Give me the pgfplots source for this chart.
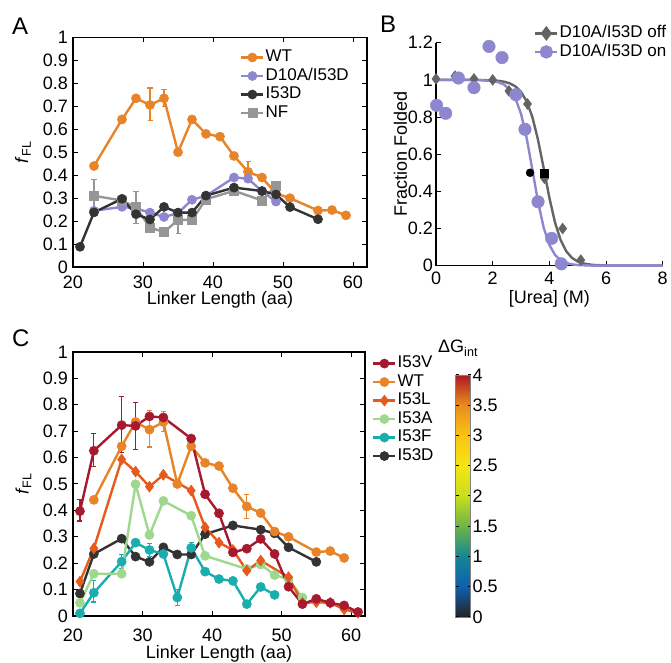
\documentclass[border=0pt]{standalone}
\usepackage{fontspec}
\setmainfont{Liberation Sans}
\usepackage{pgfplots}
\pgfplotsset{compat=1.18}
\definecolor{wt}{RGB}{232,131,39}
\definecolor{pur}{RGB}{141,135,207}
\definecolor{blk}{RGB}{51,51,51}
\definecolor{nf}{RGB}{150,150,150}
\definecolor{offc}{RGB}{100,100,100}
\definecolor{v53}{RGB}{166,25,46}
\definecolor{l53}{RGB}{230,90,30}
\definecolor{a53}{RGB}{158,216,142}
\definecolor{f53}{RGB}{26,173,173}
\newcommand{\fs}{\fontsize{18bp}{21bp}\selectfont}
\newcommand{\fl}{\fontsize{17bp}{19bp}\selectfont}
\pgfplotsset{
  base/.style={scale only axis, clip=false, tick align=inside, major tick length=5bp,
    axis line style={line width=1.1bp, black}, every tick/.style={line width=1bp, black},
    ticklabel style={font=\fs}, label style={font=\fs},
    /pgf/number format/assume math mode=true,
    xticklabel style={anchor=center, inner sep=0pt},
    yticklabel style={anchor=east, inner sep=0pt, xshift=-5bp},
    legend cell align=left,
    legend style={draw=none, fill=none, font=\fl, inner sep=0pt, row sep=0pt,
      nodes={inner sep=1bp, text height=12.5bp, text depth=4bp}},
    legend image code/.code={\draw[mark repeat=2,mark phase=2,##1] plot coordinates {(0bp,0bp) (11bp,0bp) (22bp,0bp)};},
  },
  ln/.style={color=#1, line width=2.4bp, mark=*, mark size=4.6bp, mark options={solid, fill=#1, draw=#1, line width=0.5bp}},
  eb/.style={color=#1, only marks, mark=none, forget plot, error bars/.cd, y dir=both, y explicit,
    error bar style={line width=1.1bp, color=#1}, error mark options={rotate=90, mark size=2.5bp, line width=1.1bp, color=#1}},
}
\begin{document}
\begin{tikzpicture}
\path[use as bounding box] (0,0) rectangle (671bp,663bp);
% ---------------- Panel A
\begin{axis}[base, at={(73bp,396bp)}, anchor=south west, width=294bp, height=229.5bp,
  xmin=20, xmax=62, ymin=0, ymax=1, xtick={20,30,40,50,60},
  ytick={0,0.1,0.2,0.3,0.4,0.5,0.6,0.7,0.8,0.9,1},
  xticklabel style={yshift=-15bp},
  xlabel={Linker Length (aa)}, xlabel style={at={(axis description cs:0.5,0)}, anchor=center, yshift=-33bp},
  ylabel={\textit{f}\textsubscript{FL}}, ylabel style={at={(axis description cs:-0.17,0.5)}, anchor=center},
  legend style={at={(0.568,0.954)}, anchor=north west}]
\addplot[eb=wt] coordinates {(31,0.706) += (0,0.074) -= (0,0.066) (33,0.735) += (0,0.04) -= (0,0.035) (45,0.415) += (0,0.045) -= (0,0.045)};
\addplot[eb=nf] coordinates {(23,0.308) += (0,0.074) -= (0,0.06) (29,0.26) += (0,0.068) -= (0,0.07) (35,0.205) += (0,0.035) -= (0,0.058)};
\addplot[ln=wt] coordinates {(23,0.44)(27,0.643)(29,0.735)(31,0.706)(33,0.735)(35,0.50)(37,0.643)(39,0.58)(41,0.568)(43,0.484)(45,0.415)(47,0.39)(49,0.32)(51,0.30)(55,0.246)(57,0.248)(59,0.225)};
\addlegendentry{WT}
\addplot[ln=pur] coordinates {(23,0.245)(27,0.262)(29,0.255)(31,0.237)(33,0.218)(35,0.235)(37,0.293)(39,0.31)(43,0.39)(45,0.385)(47,0.33)(49,0.285)};
\addlegendentry{D10A/I53D}
\addplot[ln=nf, mark=square*, forget plot] coordinates {(23,0.31)(27,0.29)(29,0.26)(31,0.172)(33,0.152)(35,0.205)(37,0.205)(39,0.295)(43,0.332)(47,0.29)(49,0.354)};
\addplot[ln=blk] coordinates {(21,0.088)(23,0.238)(27,0.297)(29,0.23)(31,0.207)(33,0.262)(35,0.237)(37,0.237)(39,0.311)(43,0.346)(47,0.331)(49,0.316)(51,0.261)(55,0.208)};
\addlegendentry{I53D}
\addlegendimage{ln=nf, mark=square*}
\addlegendentry{NF}
\end{axis}
% ---------------- Panel B
\begin{axis}[base, at={(436bp,397.3bp)}, anchor=south west, width=226.7bp, height=223bp,
  axis x line*=bottom, axis y line*=left,
  xmin=0, xmax=8, ymin=0, ymax=1.2, xtick={0,2,4,6,8}, ytick={0,0.2,0.4,0.6,0.8,1,1.2},
  xticklabel style={yshift=-12.5bp}, yticklabel style={xshift=2bp},
  xlabel={[Urea] (M)}, xlabel style={at={(axis description cs:0.5,0)}, anchor=center, yshift=-33bp},
  ylabel={Fraction Folded}, ylabel style={at={(axis description cs:-0.157,0.5)}, anchor=center},
  legend style={at={(0.432,1.084)}, anchor=north west}]
\addlegendimage{color=offc, line width=2.4bp, mark=diamond*, mark size=5.5bp, mark options={solid}}
\addlegendentry{D10A/I53D off}
\addlegendimage{color=pur, line width=2.4bp, mark=*, mark size=5.5bp, mark options={solid}}
\addlegendentry{D10A/I53D on}
\addplot[color=offc, line width=2.4bp, forget plot] coordinates {(0,1)(1,0.9999)(1.5,0.9995)(2,0.9973)(2.2,0.9948)(2.4,0.9902)(2.6,0.9814)(2.8,0.9652)(3.0,0.9357)(3.2,0.8841)(3.4,0.8002)(3.6,0.6774)(3.8,0.5242)(4.0,0.3663)(4.2,0.2326)(4.4,0.1372)(4.6,0.0770)(4.8,0.0419)(5.0,0.0224)(5.2,0.0119)(5.5,0.0046)(6,0.0009)(7,0)(8,0)};
\addplot[color=pur, line width=2.4bp, forget plot] coordinates {(0,1)(1,0.9998)(1.5,0.9990)(2,0.9938)(2.2,0.9873)(2.4,0.9745)(2.6,0.9493)(2.8,0.9015)(3.0,0.8176)(3.2,0.6869)(3.4,0.5178)(3.6,0.3446)(3.8,0.2047)(4.0,0.1120)(4.2,0.0581)(4.4,0.0293)(4.6,0.0146)(4.8,0.0072)(5.0,0.0035)(5.5,0.0006)(6,0.0001)(8,0)};
\addplot[only marks, mark=diamond*, mark size=5.5bp, color=offc, forget plot] coordinates {(0,1.005)(0.67,1.02)(1.34,1.005)(2.0,1.0)(2.575,0.94)(3.23,0.87)(3.83,0.47)(4.47,0.2)(5.11,0.03)};
\addplot[only marks, mark=*, mark size=6.3bp, color=pur, forget plot] coordinates {(0.02,0.863)(0.34,0.82)(0.79,1.01)(1.34,0.958)(1.87,1.18)(2.33,1.12)(2.82,0.92)(3.14,0.734)(3.6,0.344)(4.08,0.147)(4.42,0.01)};
\addplot[only marks, mark=*, mark size=4bp, color=black, forget plot] coordinates {(3.32,0.5)};
\addplot[only marks, mark=square*, mark size=4bp, color=black, forget plot] coordinates {(3.81,0.5)};
\end{axis}
% ---------------- Panel C
\begin{axis}[base, at={(73bp,47bp)}, anchor=south west, width=292bp, height=264bp,
  xmin=20, xmax=62, ymin=0, ymax=1, xtick={20,30,40,50,60},
  ytick={0,0.1,0.2,0.3,0.4,0.5,0.6,0.7,0.8,0.9,1},
  xticklabel style={yshift=-19bp},
  xlabel={Linker Length (aa)}, xlabel style={at={(axis description cs:0.5,0)}, anchor=center, yshift=-38bp},
  ylabel={\textit{f}\textsubscript{FL}}, ylabel style={at={(axis description cs:-0.17,0.5)}, anchor=center},
  legend style={at={(1.024,0.992)}, anchor=north west}, reverse legend,
  colormap={dg}{rgb255(0cm)=(35,35,35); rgb255(1cm)=(15,95,175); rgb255(2cm)=(20,135,150); rgb255(3cm)=(110,180,70); rgb255(4cm)=(200,222,30); rgb255(5cm)=(245,230,20); rgb255(6cm)=(250,195,20); rgb255(7cm)=(235,140,30); rgb255(8cm)=(170,25,35)},
  point meta min=0, point meta max=4,
  colorbar,
  colorbar style={at={(parent axis.north east)}, anchor=north west, xshift=82bp, yshift=-23bp,
    scale only axis, width=15bp, height=242bp,
    ytick={0,0.5,1,1.5,2,2.5,3,3.5,4},
    /pgf/number format/assume math mode=true,
    yticklabel style={font=\fs, inner sep=0pt, anchor=west, xshift=2bp},
    major tick length=3bp, tick align=inside,
    axis line style={line width=0.8bp, gray}},
  ]
\addplot[eb=f53] coordinates {(23,0.088) += (0,0.045) -= (0,0.035) (27,0.206) += (0,0.027) -= (0,0.025) (31,0.25) += (0,0.025) -= (0,0.025) (35,0.07) += (0,0.03) -= (0,0.03) (37,0.258) += (0,0.02) -= (0,0.02)};
\addplot[eb=v53] coordinates {(21,0.397) += (0,0.043) -= (0,0.037) (23,0.626) += (0,0.064) -= (0,0.061) (27,0.723) += (0,0.107) -= (0,0.103) (29,0.72) += (0,0.088) -= (0,0.09)};
\addplot[eb=wt] coordinates {(31,0.706) += (0,0.074) -= (0,0.066) (33,0.735) += (0,0.04) -= (0,0.035) (45,0.415) += (0,0.045) -= (0,0.045)};
\addplot[ln=blk] coordinates {(21,0.085)(23,0.235)(27,0.293)(29,0.225)(31,0.205)(33,0.26)(35,0.233)(37,0.233)(39,0.31)(43,0.343)(47,0.327)(49,0.313)(51,0.26)(55,0.205)};
\addlegendentry{I53D}
\addplot[ln=f53] coordinates {(21,0.01)(23,0.088)(27,0.206)(29,0.278)(31,0.25)(33,0.235)(35,0.07)(37,0.258)(39,0.168)(41,0.14)(43,0.133)(45,0.045)(47,0.11)(49,0.08)};
\addlegendentry{I53F}
\addplot[ln=a53] coordinates {(21,0.05)(23,0.16)(27,0.16)(29,0.499)(31,0.307)(33,0.436)(37,0.38)(39,0.228)(45,0.178)(47,0.195)(49,0.155)(51,0.14)(53,0.07)};
\addlegendentry{I53A}
\addplot[ln=l53, mark=diamond*, mark size=5.5bp] coordinates {(21,0.13)(23,0.256)(27,0.593)(29,0.547)(31,0.49)(33,0.535)(37,0.475)(39,0.336)(41,0.278)(43,0.25)(45,0.172)(47,0.21)(51,0.147)(53,0.05)(55,0.052)(57,0.05)(59,0.025)(61,0.012)};
\addlegendentry{I53L}
\addplot[ln=wt] coordinates {(23,0.44)(27,0.643)(29,0.735)(31,0.706)(33,0.735)(35,0.50)(37,0.643)(39,0.58)(41,0.568)(43,0.484)(45,0.415)(47,0.39)(49,0.32)(51,0.30)(55,0.242)(57,0.246)(59,0.22)};
\addlegendentry{WT}
\addplot[ln=v53] coordinates {(21,0.397)(23,0.626)(27,0.723)(29,0.72)(31,0.756)(33,0.752)(37,0.672)(39,0.461)(41,0.389)(43,0.241)(45,0.255)(47,0.292)(49,0.235)(51,0.111)(53,0.045)(55,0.065)(57,0.05)(59,0.04)(61,0.015)};
\addlegendentry{I53V}
\end{axis}
\node[font=\fs, anchor=base west, inner sep=0pt] at (438bp,310bp) {ΔG\textsubscript{int}};
\node[font=\fontsize{24bp}{28bp}\selectfont, anchor=base west, inner sep=0pt] at (12bp,628bp) {A};
\node[font=\fontsize{24bp}{28bp}\selectfont, anchor=base west, inner sep=0pt] at (380bp,630bp) {B};
\node[font=\fontsize{24bp}{28bp}\selectfont, anchor=base west, inner sep=0pt] at (12bp,316bp) {C};
\end{tikzpicture}
\end{document}
